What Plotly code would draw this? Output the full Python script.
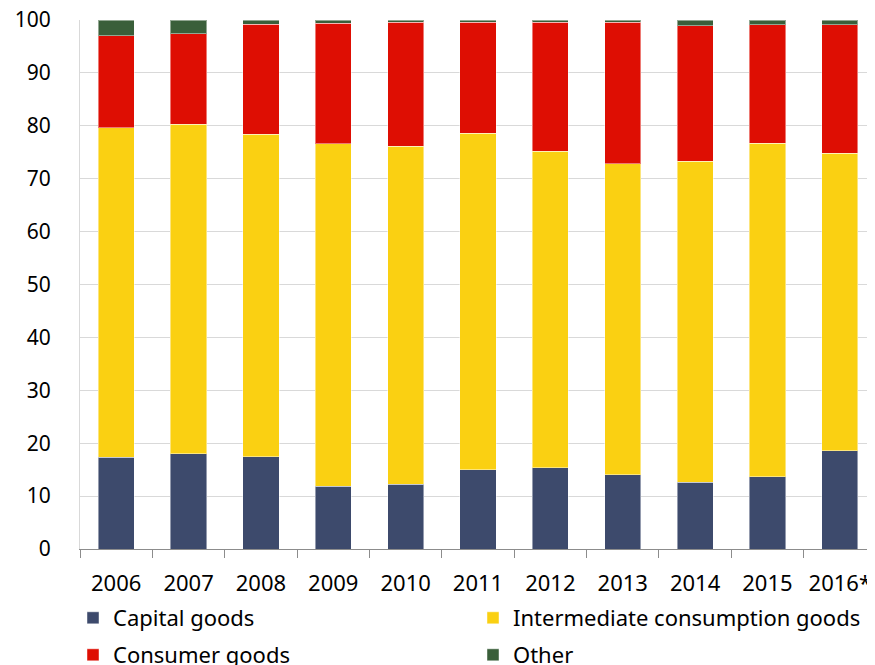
import plotly.graph_objects as go

years = ["2006", "2007", "2008", "2009", "2010", "2011", "2012", "2013", "2014", "2015", "2016*"]
capital_goods = [17.3, 18.0, 17.4, 11.9, 12.2, 15.0, 15.4, 14.0, 12.6, 13.7, 18.6]
intermediate_goods = [62.3, 62.3, 61.0, 64.7, 63.9, 63.6, 59.8, 58.8, 60.7, 63.0, 56.2]
consumer_goods = [17.4, 17.1, 20.8, 22.8, 23.5, 21.0, 24.4, 26.8, 25.6, 22.4, 24.3]
other = [3.0, 2.6, 0.8, 0.6, 0.4, 0.4, 0.4, 0.4, 1.1, 0.9, 0.9]

series = [
    ("Capital goods", capital_goods, "#3d4a6c", "legend"),
    ("Intermediate consumption goods", intermediate_goods, "#fad012", "legend2"),
    ("Consumer goods", consumer_goods, "#de0e03", "legend3"),
    ("Other", other, "#3a5f3a", "legend4"),
]

FONT = "Noto Sans"
W, H = 875, 665

fig = go.Figure()
for name, vals, color, lg in series:
    fig.add_trace(go.Bar(
        x=years, y=vals, name=name, legend=lg,
        marker=dict(color=color, line=dict(color="rgba(255,255,255,0.45)", width=1)),
        width=0.5,
    ))

def leg(xpx, ypx):
    return dict(
        xref="container", yref="container",
        x=xpx / W, y=1 - ypx / H, xanchor="left", yanchor="middle",
        orientation="h", bgcolor="rgba(0,0,0,0)",
        font=dict(family=FONT, size=22, color="#000000"),
    )

fig.update_layout(
    width=W, height=H,
    barmode="stack",
    plot_bgcolor="white", paper_bgcolor="white",
    margin=dict(l=72, r=7, t=12, b=124, autoexpand=False),
    font=dict(family=FONT, size=22, color="#000000"),
    showlegend=True,
    legend=leg(65, 610),
    legend2=leg(465, 610),
    legend3=leg(65, 647),
    legend4=leg(465, 647),
    xaxis=dict(
        type="category", range=[-0.5, 10.5],
        showline=True, linecolor="#8c8c8c", linewidth=1,
        ticks="outside", tickson="boundaries", ticklen=8, tickcolor="#8c8c8c",
        tickfont=dict(family=FONT, size=22, color="#000000"),
        tickangle=0,
        ticklabelstandoff=15,
        ticklabeloverflow="allow",
        showgrid=False,
    ),
    yaxis=dict(
        range=[0, 100], dtick=10, tick0=0,
        showgrid=True, gridcolor="#d9d9d9", gridwidth=1,
        showline=True, linecolor="#d9d9d9", linewidth=1,
        ticks="", zeroline=False,
        tickfont=dict(family=FONT, size=21, color="#000000"),
        ticklabelstandoff=24,
        ticklabeloverflow="allow",
    ),
)

fig.write_html("out.html")
